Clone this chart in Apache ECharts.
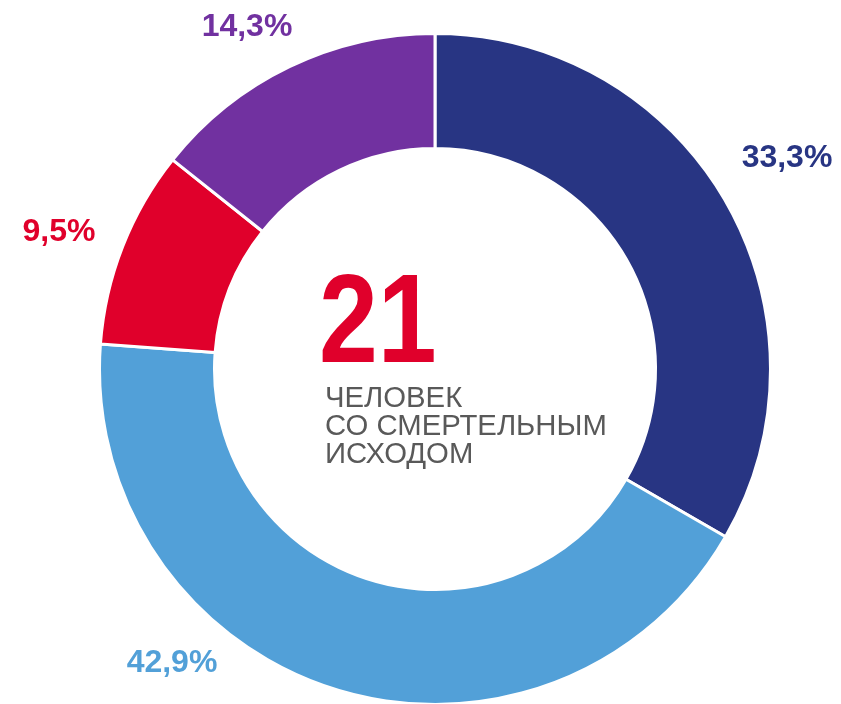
<!DOCTYPE html>
<html>
<head>
<meta charset="utf-8">
<title>21 человек со смертельным исходом</title>
<script src="https://cdn.jsdelivr.net/npm/echarts@6/dist/echarts.min.js"></script>
<style>
  html, body { margin: 0; padding: 0; background: #fff; }
  #chart { width: 841px; height: 704px; }
</style>
</head>
<body>
<div id="chart"></div>
<script>
// данные (число погибших по группам, всего 21)
var groups = ["Группа 1", "Группа 2", "Группа 3", "Группа 4"];
var counts = [7, 9, 2, 3];
var colors = ["#283583", "#52a0d8", "#e0002b", "#7131a0"];
var totalText = "21";
var captionLines = ["ЧЕЛОВЕК", "СО СМЕРТЕЛЬНЫМ", "ИСХОДОМ"];

// где стоят подписи процентов (центры текста)
var labelPos = [[787, 158], [172, 663], [59, 232], [247, 27]];

var font = "'Liberation Sans', Arial, sans-serif";

var chart = echarts.init(document.getElementById("chart"));

var pieData = counts.map(function (v, i) {
  return { name: groups[i], value: v, itemStyle: { color: colors[i] } };
});

var graphics = [
  {
    type: "text",
    x: 319,
    y: 327,
    scaleX: 0.84,
    style: {
      text: totalText,
      font: "bold 126px " + font,
      fill: "#e0002b",
      align: "left",
      verticalAlign: "middle"
    }
  }
];
var lineY = [398.5, 427, 455.3];
captionLines.forEach(function (t, i) {
  graphics.push({
    type: "text",
    x: 325,
    y: lineY[i],
    style: {
      text: t,
      font: "29.3px " + font,
      fill: "#595959",
      align: "left",
      verticalAlign: "middle"
    }
  });
});

chart.setOption({
  animation: false,
  series: [
    {
      type: "pie",
      center: [435, 369],
      radius: [220.5, 335.5],
      startAngle: 90,
      clockwise: true,
      percentPrecision: 1,
      avoidLabelOverlap: false,
      itemStyle: {
        borderColor: "#fff",
        borderWidth: 3
      },
      label: {
        show: true,
        position: "outside",
        color: "inherit",
        fontFamily: font,
        fontSize: 32,
        fontWeight: "bold",
        formatter: function (p) {
          return String(p.percent).replace(".", ",") + "%";
        }
      },
      labelLine: { show: false },
      labelLayout: function (p) {
        var pos = labelPos[p.dataIndex];
        return { x: pos[0], y: pos[1], align: "center", verticalAlign: "middle" };
      },
      emphasis: { disabled: true },
      data: pieData
    }
  ],
  graphic: graphics
});
</script>
</body>
</html>
